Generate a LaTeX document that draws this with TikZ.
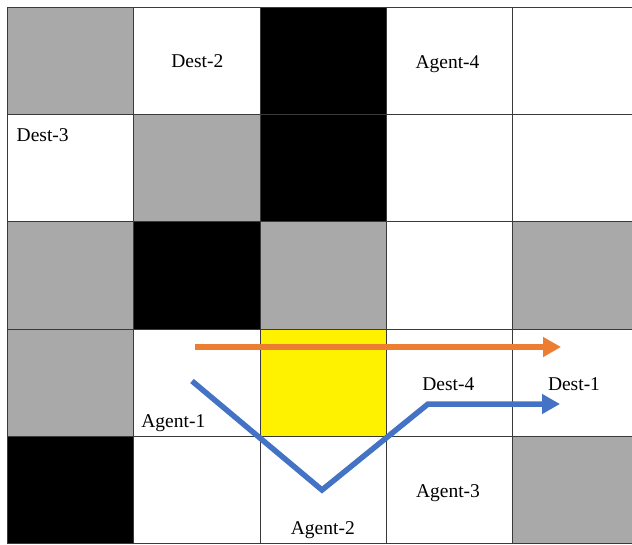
\documentclass[tikz,border=0pt]{standalone}
\usepackage{fontspec}
\setmainfont{Liberation Serif}
\usetikzlibrary{arrows.meta}
\definecolor{cellgray}{HTML}{A9A9A9}
\definecolor{pathorange}{HTML}{ED7D31}
\definecolor{pathblue}{HTML}{4472C4}
\definecolor{gridline}{HTML}{3A3A3A}
\tikzset{
  graycell/.style={fill=cellgray},
  blackcell/.style={fill=black},
  yellowcell/.style={fill=yellow},
  gridstroke/.style={draw=gridline, line width=0.9pt},
  label/.style={font=\fontsize{19.5}{22}\selectfont, inner sep=0pt, anchor=base},
  route/.style={line width=5.5pt, -{Triangle[length=18pt,width=19pt]}},
  routeline/.style={line width=5.5pt, line join=miter}
}
\begin{document}
\begin{tikzpicture}[x=1pt,y=-1pt]
\useasboundingbox (0,0) rectangle (632,545);
\clip (0,0) rectangle (632,545);
\fill[white] (0,0) rectangle (632,545);
% column edges: 7,133,260,386,512,638 ; row edges: 7,114,221,329,436,543
% gray cells
\fill[graycell] (7,7) rectangle (133,114);
\fill[graycell] (133,114) rectangle (260,221);
\fill[graycell] (7,221) rectangle (133,329);
\fill[graycell] (260,221) rectangle (386,329);
\fill[graycell] (512,221) rectangle (638,329);
\fill[graycell] (7,329) rectangle (133,436);
\fill[graycell] (512,436) rectangle (638,543);
% black cells
\fill[blackcell] (260,7) rectangle (386,221);
\fill[blackcell] (133,221) rectangle (260,329);
\fill[blackcell] (7,436) rectangle (133,543);
% yellow cell
\fill[yellowcell] (260,329) rectangle (386,436);
% grid lines
\foreach \x in {7,133,260,386,512} \draw[gridstroke] (\x,7) -- (\x,543);
\foreach \y in {7,114,221,329,436,543} \draw[gridstroke] (7,\y) -- (640,\y);
% labels
\node[label] (dest2) at (197.3,68) {Dest-2};
\node[label] (agent4) at (447.5,68.5) {Agent-4};
\node[label, anchor=base west] (dest3) at (16.5,141.5) {Dest-3};
\node[label] (agent1) at (173.3,427.5) {Agent-1};
\node[label] (dest4) at (448.3,390) {Dest-4};
\node[label] (dest1) at (574,390) {Dest-1};
\node[label] (agent3) at (448,497) {Agent-3};
\node[label] (agent2) at (322.8,534.3) {Agent-2};
% route points
\coordinate (o1) at (195,347);
\coordinate (o2) at (561,347);
\coordinate (b1) at (192,381);
\coordinate (b2) at (322,490);
\coordinate (b3) at (428,404);
\coordinate (b4) at (560,404);
% routes
\draw[route, pathorange] (o1) -- (o2);
\draw[routeline, pathblue] (b1) -- (b2) -- (b3) -- ([xshift=-10pt]b4);
\draw[route, pathblue] ([xshift=-12pt]b4) -- (b4);
\end{tikzpicture}
\end{document}
